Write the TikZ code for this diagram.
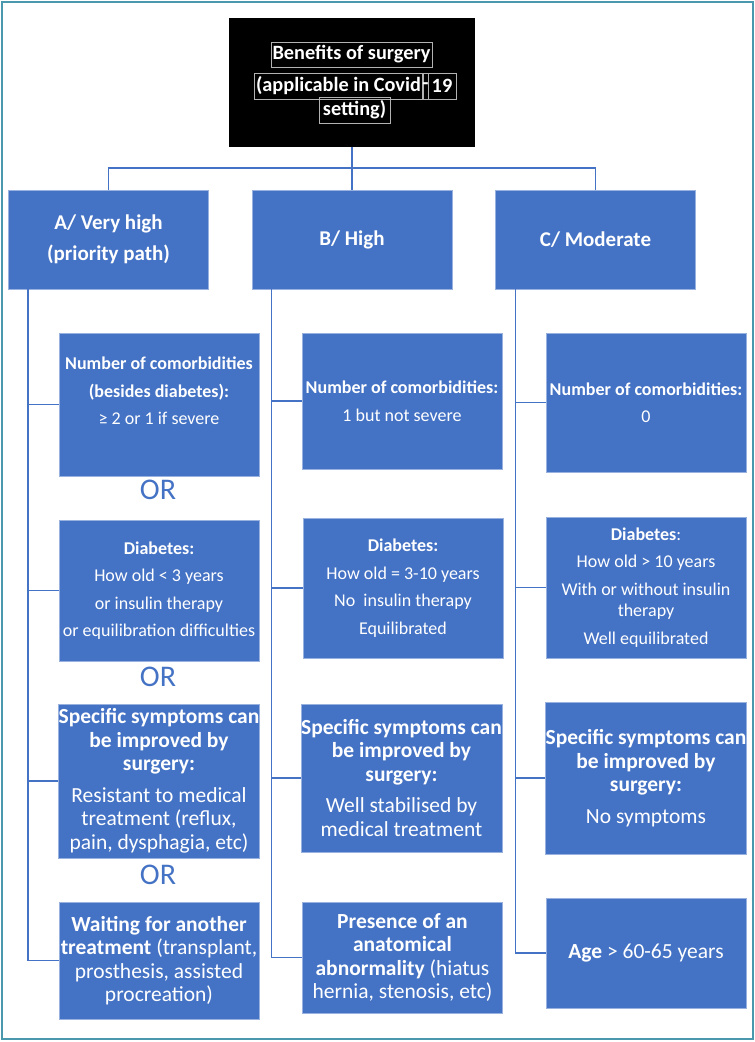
\documentclass[tikz,border=0pt]{standalone}
\usepackage{fontspec}
\setmainfont{Carlito}
\definecolor{myblue}{HTML}{4472C4}
\definecolor{framecol}{HTML}{4A98AE}
\tikzset{
 box/.style={fill=myblue, draw=myblue!55!white, line width=0.7pt, text=white, align=center, inner sep=0pt, minimum width=200pt},
 hdr/.style={box, font=\fontsize{21}{25}\selectfont\bfseries, minimum height=99pt},
 small/.style={font=\fontsize{18}{21.5}\selectfont},
 big/.style={font=\fontsize{21.5}{23.5}\selectfont},
 conn/.style={draw=myblue, line width=1.3pt},
 ortext/.style={text=myblue, font=\fontsize{30}{30}\selectfont, inner sep=0pt},
 tbox/.style={draw=gray!60, line width=0.5pt, text=white, inner sep=0pt, font=\fontsize{20.3}{24}\selectfont\bfseries},
}
\begin{document}
\begin{tikzpicture}[x=1pt,y=-1pt]
\useasboundingbox (0,0) rectangle (755,1042);
\draw[framecol, line width=1.5pt] (2,2) rectangle (753,1039);
% top box
\node[fill=black, minimum width=246pt, minimum height=129pt, inner sep=0pt] (top) at (352,82.5) {};
\node[tbox, minimum width=161pt, minimum height=25pt] (t1) at (351.5,54.5) {Benefits of surgery};
\node[tbox, minimum width=169pt, minimum height=26pt] (t2) at (338.5,86) {(applicable in Covid};
\node[tbox, minimum width=5pt, minimum height=26pt] (t3) at (425.5,86) {-};
\node[tbox, minimum width=28pt, minimum height=26pt] (t4) at (442,86) {19};
\node[tbox, minimum width=71pt, minimum height=26pt] (t5) at (354.5,110) {setting)};
% headers
\node[hdr] (hA) at (108.5,239.5) {A/ Very high\\[6pt](priority path)};
\node[hdr] (hB) at (352,239.5) {B/ High};
\node[hdr] (hC) at (595.5,239.5) {C/ Moderate};
\coordinate (j) at (352,168);
\draw[conn] (top.south) -- (j) -- (hB.north);
\draw[conn] (hA.north) -- (hA.north |- j) -- (hC.north |- j) -- (hC.north);
% column A
\node[box, small, minimum height=143pt] (A1) at (159,404.5) {\textbf{Number of comorbidities}\\[6pt]\textbf{(besides diabetes):}\\[6pt]≥ 2 or 1 if severe\\[6pt]\mbox{}};
\node[box, small, minimum height=141pt] (A2) at (159,590.5) {\textbf{Diabetes:}\\[6pt]How old < 3 years\\[6pt]or insulin therapy\\[6pt]or equilibration difficulties};
\node[box, big, minimum height=154pt] (A3) at (159,781) {\textbf{Specific symptoms can}\\\textbf{be improved by}\\\textbf{surgery:}\\[8pt]Resistant to medical\\treatment (reflux,\\pain, dysphagia, etc)};
\node[box, big, minimum height=117pt] (A4) at (159,960.5) {\textbf{Waiting for another}\\\textbf{treatment} (transplant,\\prosthesis, assisted\\procreation)};
\node[ortext] (or1) at (158,490) {OR};
\node[ortext] (or2) at (158,677) {OR};
\node[ortext] (or3) at (158,875) {OR};
% column B
\node[box, small, minimum height=136pt] (B1) at (402,401) {\textbf{Number of comorbidities:}\\[6pt]1 but not severe};
\node[box, small, minimum height=140pt] (B2) at (403,588) {\textbf{Diabetes:}\\[6pt]How old = 3-10 years\\[6pt]No\ \ insulin therapy\\[6pt]Equilibrated};
\node[box, big, minimum height=148pt] (B3) at (401.5,778) {\textbf{Specific symptoms can}\\\textbf{be improved by}\\\textbf{surgery:}\\[8pt]Well stabilised by\\medical treatment};
\node[box, big, minimum height=111pt] (B4) at (402.5,957.5) {\textbf{Presence of an}\\\textbf{anatomical}\\\textbf{abnormality} (hiatus\\hernia, stenosis, etc)};
% column C
\node[box, small, minimum height=139pt] (C1) at (646,402.5) {\textbf{Number of comorbidities:}\\[6pt]0};
\node[box, small, minimum height=141pt] (C2) at (646,587.5) {\textbf{Diabetes}:\\[6pt]How old > 10 years\\[6pt]With or without insulin\\therapy\\[6pt]Well equilibrated};
\node[box, big, minimum height=152pt] (C3) at (646,778) {\textbf{Specific symptoms can}\\\textbf{be improved by}\\\textbf{surgery:}\\[8pt]No symptoms};
\node[box, big, minimum height=110pt] (C4) at (646,953) {\textbf{Age} > 60-65 years};
% trunks
\coordinate (tA) at (28,289);
\coordinate (tB) at (271.5,289);
\coordinate (tC) at (515.5,289);
\draw[conn] (tA) |- (A4.west);
\draw[conn] (tB) |- (B4.west);
\draw[conn] (tC) |- (C4.west);
\foreach \n in {A1,A2,A3} \draw[conn] (tA |- \n.west) -- (\n.west);
\foreach \n in {B1,B2,B3} \draw[conn] (tB |- \n.west) -- (\n.west);
\foreach \n in {C1,C2,C3} \draw[conn] (tC |- \n.west) -- (\n.west);
\end{tikzpicture}
\end{document}
